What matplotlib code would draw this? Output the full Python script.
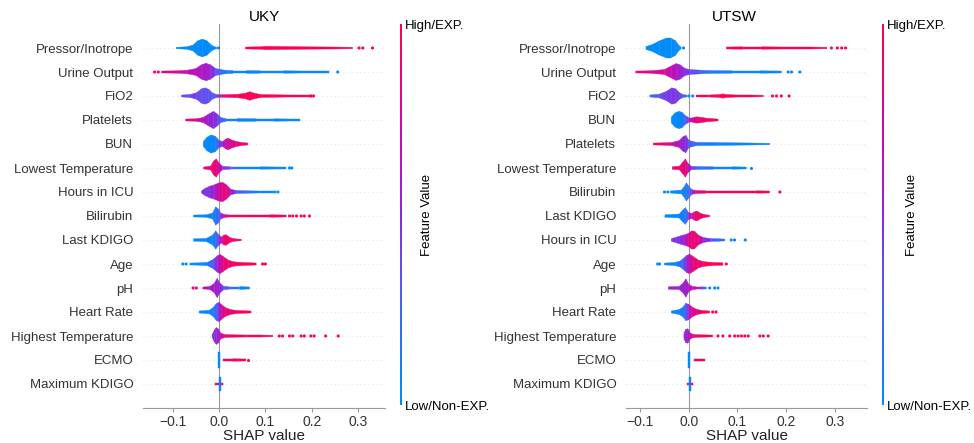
import numpy as np
import matplotlib
matplotlib.use("Agg")
import matplotlib.pyplot as plt
from matplotlib.colors import LinearSegmentedColormap
from matplotlib.cm import ScalarMappable

plt.rcParams['font.family'] = ['Liberation Sans', 'DejaVu Sans']

# ---- UKY ----
uky_features = ["Pressor/Inotrope", "Urine Output", "FiO2", "Platelets", "BUN",
                "Lowest Temperature", "Hours in ICU", "Bilirubin", "Last KDIGO", "Age",
                "pH", "Heart Rate", "Highest Temperature", "ECMO", "Maximum KDIGO"]

# shap value knots along each row, density (half height) and feature value colour at each knot
uky_knot_x = [
    [-0.092, -0.07, -0.056, -0.046, -0.036, -0.026, -0.018, -0.011, -0.005, -0.005, 0.057, 0.057, 0.09, 0.10, 0.14, 0.18, 0.25, 0.288],
    [-0.124, -0.09, -0.07, -0.05, -0.038, -0.028, -0.018, -0.008, 0.004, 0.015, 0.03, 0.06, 0.09, 0.14, 0.19, 0.237],
    [-0.081, -0.063, -0.048, -0.038, -0.03, -0.022, -0.015, -0.005, 0.005, 0.02, 0.04, 0.058, 0.066, 0.075, 0.09, 0.12, 0.16, 0.2],
    [-0.072, -0.05, -0.035, -0.022, -0.012, -0.004, 0.004, 0.015, 0.04, 0.08, 0.12, 0.16, 0.175],
    [-0.034, -0.026, -0.017, -0.008, 0.0, 0.008, 0.014, 0.02, 0.028, 0.038, 0.05, 0.062],
    [-0.033, -0.018, -0.011, -0.006, 0.0, 0.008, 0.025, 0.05, 0.09, 0.13, 0.145],
    [-0.038, -0.03, -0.02, -0.01, 0.0, 0.008, 0.016, 0.025, 0.035, 0.06, 0.09, 0.116],
    [-0.055, -0.028, -0.014, -0.007, -0.002, 0.004, 0.012, 0.02, 0.035, 0.07, 0.11, 0.145],
    [-0.055, -0.028, -0.014, -0.007, -0.001, 0.005, 0.01, 0.015, 0.022, 0.03, 0.04, 0.048],
    [-0.063, -0.04, -0.025, -0.012, -0.004, 0.002, 0.01, 0.02, 0.032, 0.05, 0.068, 0.08],
    [-0.035, -0.02, -0.01, -0.004, 0.002, 0.01, 0.02, 0.044, 0.066],
    [-0.043, -0.02, -0.012, -0.006, 0.0, 0.006, 0.014, 0.025, 0.04, 0.058, 0.069],
    [-0.015, -0.01, -0.006, -0.002, 0.004, 0.012, 0.03, 0.06, 0.09, 0.116],
    [-0.002, -0.002, 0.003, 0.003, 0.008, 0.008, 0.03, 0.058],
    [-0.008, -0.008, -0.001, -0.001, 0.004, 0.004, 0.008],
]
uky_knot_h = [
    [0.03, 0.05, 0.12, 0.3, 0.37, 0.3, 0.15, 0.06, 0.03, 0, 0, 0.04, 0.05, 0.07, 0.06, 0.05, 0.04, 0.03],
    [0.04, 0.05, 0.07, 0.14, 0.3, 0.36, 0.3, 0.15, 0.1, 0.07, 0.06, 0.06, 0.05, 0.05, 0.04, 0.04],
    [0.04, 0.06, 0.14, 0.3, 0.34, 0.28, 0.14, 0.06, 0.05, 0.06, 0.07, 0.12, 0.18, 0.12, 0.06, 0.05, 0.04, 0.04],
    [0.04, 0.05, 0.1, 0.25, 0.36, 0.25, 0.1, 0.06, 0.06, 0.05, 0.05, 0.04, 0.04],
    [0.1, 0.28, 0.38, 0.32, 0.15, 0.1, 0.2, 0.24, 0.16, 0.1, 0.06, 0.04],
    [0.04, 0.08, 0.3, 0.38, 0.2, 0.07, 0.05, 0.05, 0.05, 0.04, 0.04],
    [0.04, 0.15, 0.24, 0.3, 0.38, 0.4, 0.3, 0.12, 0.07, 0.05, 0.04, 0.04],
    [0.04, 0.05, 0.12, 0.38, 0.3, 0.12, 0.06, 0.05, 0.05, 0.05, 0.05, 0.04],
    [0.05, 0.06, 0.2, 0.38, 0.22, 0.12, 0.2, 0.22, 0.12, 0.06, 0.04, 0.03],
    [0.04, 0.05, 0.07, 0.2, 0.34, 0.4, 0.3, 0.16, 0.09, 0.06, 0.05, 0.04],
    [0.04, 0.06, 0.2, 0.4, 0.2, 0.07, 0.06, 0.06, 0.04],
    [0.04, 0.08, 0.2, 0.35, 0.4, 0.3, 0.18, 0.1, 0.06, 0.05, 0.04],
    [0.05, 0.25, 0.35, 0.3, 0.12, 0.06, 0.05, 0.04, 0.04, 0.03],
    [0, 0.35, 0.35, 0, 0, 0.05, 0.05, 0.04],
    [0, 0.05, 0.05, 0.3, 0.3, 0.05, 0.05],
]
uky_knot_c = [
    [0, 0, 0, 0, 0, 0, 0, 0, 0, 0, 1, 1, 1, 1, 1, 1, 1, 1],
    [0.85, 0.8, 0.7, 0.65, 0.6, 0.6, 0.55, 0.4, 0.2, 0.1, 0.05, 0.03, 0.02, 0.02, 0.02, 0.02],
    [0.3, 0.4, 0.4, 0.35, 0.35, 0.35, 0.3, 0.3, 0.7, 0.9, 0.95, 1, 1, 1, 1, 1, 1, 1],
    [0.9, 0.8, 0.65, 0.55, 0.5, 0.45, 0.3, 0.1, 0.03, 0.02, 0.02, 0.02, 0.02],
    [0, 0, 0, 0.05, 0.3, 0.55, 0.7, 0.75, 0.8, 0.85, 0.9, 0.9],
    [0.9, 0.9, 0.9, 0.85, 0.8, 0.55, 0.25, 0.05, 0.02, 0.02, 0.02],
    [0.5, 0.45, 0.45, 0.55, 0.75, 0.85, 0.85, 0.7, 0.4, 0.1, 0.05, 0.05],
    [0, 0, 0.05, 0.1, 0.2, 0.4, 0.65, 0.85, 0.95, 1, 1, 1],
    [0, 0, 0.05, 0.1, 0.4, 0.7, 0.85, 0.9, 0.9, 0.9, 0.9, 0.9],
    [0, 0, 0.05, 0.3, 0.55, 0.7, 0.85, 0.9, 0.95, 1, 1, 1],
    [0.7, 0.6, 0.55, 0.6, 0.55, 0.4, 0.25, 0.05, 0.02],
    [0, 0.05, 0.1, 0.2, 0.5, 0.75, 0.85, 0.9, 0.95, 1, 1],
    [0.5, 0.45, 0.5, 0.55, 0.7, 0.85, 0.95, 1, 1, 1],
    [0, 0, 0, 0, 1, 1, 1, 1],
    [0.9, 0.9, 0.9, 0.05, 0.05, 0.9, 0.9],
]
# loose single dots in the tails
uky_dot_x = [
    [-0.001, 0.302, 0.31, 0.331],
    [-0.139, -0.131, 0.256],
    [0.198, 0.204],
    [],
    [],
    [0.152, 0.157],
    [0.12, 0.127],
    [0.152, 0.159, 0.167, 0.177, 0.184, 0.195],
    [],
    [-0.078, -0.071, 0.094, 0.1],
    [-0.056, -0.049],
    [],
    [0.13, 0.137, 0.152, 0.159, 0.177, 0.184, 0.198, 0.205, 0.23, 0.257],
    [0.062],
    [],
]
uky_dot_c = [
    [0, 1, 1, 1],
    [0.9, 0.9, 0],
    [1, 1],
    [],
    [],
    [0, 0],
    [0, 0],
    [1, 1, 1, 1, 1, 1],
    [],
    [0, 0, 1, 1],
    [0.9, 0.9],
    [],
    [1, 1, 1, 1, 1, 1, 1, 1, 1, 1],
    [1],
    [],
]

# ---- UTSW ----
utsw_features = ["Pressor/Inotrope", "Urine Output", "FiO2", "BUN", "Platelets",
                 "Lowest Temperature", "Bilirubin", "Last KDIGO", "Hours in ICU", "Age",
                 "pH", "Heart Rate", "Highest Temperature", "ECMO", "Maximum KDIGO"]

utsw_knot_x = [
    [-0.088, -0.074, -0.06, -0.047, -0.036, -0.027, -0.021, -0.016, -0.016, 0.077, 0.077, 0.11, 0.15, 0.2, 0.25, 0.283],
    [-0.109, -0.08, -0.05, -0.036, -0.026, -0.018, -0.008, 0.002, 0.022, 0.043, 0.09, 0.146, 0.19],
    [-0.08, -0.06, -0.045, -0.035, -0.027, -0.02, -0.012, -0.004, -0.004, 0.015, 0.015, 0.04, 0.063, 0.07, 0.077, 0.1, 0.13, 0.153],
    [-0.036, -0.028, -0.02, -0.014, -0.007, 0.0, 0.008, 0.015, 0.022, 0.035, 0.05, 0.06],
    [-0.073, -0.05, -0.035, -0.02, -0.012, -0.006, 0.0, 0.015, 0.05, 0.09, 0.13, 0.166],
    [-0.034, -0.019, -0.012, -0.007, -0.002, 0.005, 0.015, 0.05, 0.09, 0.118],
    [-0.038, -0.015, -0.01, -0.005, 0.0, 0.006, 0.015, 0.035, 0.09, 0.14, 0.166],
    [-0.049, -0.02, -0.012, -0.007, -0.001, 0.006, 0.012, 0.017, 0.025, 0.035, 0.043],
    [-0.036, -0.025, -0.016, -0.008, 0.0, 0.006, 0.012, 0.02, 0.03, 0.045, 0.06, 0.074],
    [-0.05, -0.03, -0.018, -0.01, -0.004, 0.002, 0.01, 0.02, 0.03, 0.05, 0.07],
    [-0.042, -0.02, -0.012, -0.006, 0.0, 0.008, 0.015, 0.025, 0.036],
    [-0.036, -0.02, -0.012, -0.006, 0.0, 0.006, 0.015, 0.025, 0.036, 0.043],
    [-0.01, -0.006, -0.002, 0.003, 0.01, 0.025, 0.049],
    [-0.002, -0.002, 0.002, 0.002, 0.01, 0.01, 0.034],
    [-0.004, -0.004, 0.0, 0.0, 0.004, 0.004, 0.008],
]
utsw_knot_h = [
    [0.06, 0.15, 0.3, 0.4, 0.4, 0.3, 0.12, 0.04, 0, 0, 0.04, 0.05, 0.05, 0.04, 0.04, 0.03],
    [0.04, 0.05, 0.1, 0.25, 0.35, 0.3, 0.15, 0.1, 0.08, 0.06, 0.05, 0.05, 0.04],
    [0.04, 0.08, 0.2, 0.34, 0.3, 0.15, 0.06, 0.04, 0, 0, 0.04, 0.04, 0.06, 0.09, 0.06, 0.04, 0.04, 0.03],
    [0.12, 0.3, 0.36, 0.32, 0.18, 0.1, 0.1, 0.13, 0.12, 0.08, 0.05, 0.04],
    [0.04, 0.05, 0.06, 0.14, 0.3, 0.36, 0.15, 0.07, 0.06, 0.05, 0.04, 0.03],
    [0.05, 0.08, 0.25, 0.38, 0.2, 0.07, 0.06, 0.05, 0.05, 0.04],
    [0.04, 0.08, 0.2, 0.38, 0.25, 0.1, 0.06, 0.05, 0.05, 0.05, 0.04],
    [0.05, 0.08, 0.25, 0.35, 0.15, 0.1, 0.18, 0.2, 0.1, 0.05, 0.03],
    [0.05, 0.12, 0.18, 0.22, 0.28, 0.38, 0.36, 0.2, 0.1, 0.06, 0.05, 0.04],
    [0.04, 0.06, 0.12, 0.25, 0.36, 0.4, 0.3, 0.16, 0.1, 0.06, 0.05],
    [0.05, 0.06, 0.2, 0.38, 0.15, 0.06, 0.05, 0.05, 0.04],
    [0.04, 0.1, 0.2, 0.36, 0.32, 0.22, 0.12, 0.07, 0.05, 0.04],
    [0.12, 0.28, 0.3, 0.12, 0.06, 0.05, 0.04],
    [0, 0.35, 0.35, 0, 0, 0.05, 0.05],
    [0, 0.05, 0.05, 0.3, 0.3, 0.05, 0.05],
]
utsw_knot_c = [
    [0, 0, 0, 0, 0, 0, 0, 0, 0, 1, 1, 1, 1, 1, 1, 1],
    [0.9, 0.85, 0.7, 0.75, 0.6, 0.55, 0.5, 0.4, 0.3, 0.1, 0.05, 0.02, 0.02],
    [0.2, 0.35, 0.4, 0.45, 0.45, 0.4, 0.3, 0.1, 0.1, 1, 1, 0.95, 1, 1, 1, 1, 1, 1],
    [0, 0, 0, 0.05, 0.2, 0.5, 0.75, 0.85, 0.9, 0.9, 0.95, 0.95],
    [0.95, 0.9, 0.75, 0.6, 0.5, 0.5, 0.4, 0.15, 0.03, 0.02, 0.02, 0.02],
    [0.9, 0.9, 0.9, 0.85, 0.75, 0.5, 0.3, 0.05, 0.02, 0.02],
    [0, 0, 0.05, 0.1, 0.15, 0.4, 0.75, 0.95, 1, 1, 1],
    [0, 0, 0.05, 0.1, 0.4, 0.7, 0.85, 0.9, 0.9, 0.9, 0.9],
    [0.5, 0.45, 0.45, 0.55, 0.8, 0.9, 0.9, 0.85, 0.6, 0.35, 0.2, 0.1],
    [0, 0.05, 0.1, 0.3, 0.5, 0.7, 0.85, 0.9, 0.95, 1, 1],
    [0.55, 0.55, 0.55, 0.55, 0.6, 0.7, 0.75, 0.5, 0.1],
    [0, 0.05, 0.1, 0.2, 0.55, 0.75, 0.85, 0.9, 0.95, 1],
    [0.5, 0.5, 0.55, 0.7, 0.85, 0.95, 1],
    [0, 0, 0, 0, 1, 1, 1],
    [0.9, 0.9, 0.9, 0.05, 0.05, 0.9, 0.9],
]
utsw_dot_x = [
    [-0.011, 0.293, 0.305, 0.314, 0.322],
    [0.204, 0.211, 0.228],
    [0.0, 0.008, 0.172, 0.18, 0.19, 0.206],
    [],
    [],
    [0.128],
    [-0.05, -0.043, 0.187],
    [],
    [0.087, 0.094, 0.116],
    [-0.064, -0.06, 0.077],
    [0.043, 0.053, 0.06],
    [0.049, 0.056],
    [0.06, 0.07, 0.084, 0.094, 0.101, 0.108, 0.115, 0.122, 0.146, 0.153, 0.163],
    [],
    [],
]
utsw_dot_c = [
    [0, 1, 1, 1, 1],
    [0, 0, 0],
    [0, 0, 1, 1, 1, 1],
    [],
    [],
    [0],
    [0, 0, 1],
    [],
    [0, 0, 0],
    [0, 0, 1],
    [0, 0, 0],
    [1, 1],
    [1, 1, 1, 1, 1, 1, 1, 1, 1, 1, 1],
    [],
    [],
]

xticks = [-0.1, 0.0, 0.1, 0.2, 0.3]

# shap style red/blue map
cmap = LinearSegmentedColormap.from_list(
    "red_blue",
    [(0.0, (0.0, 0.541, 0.984)),
     (0.3, (0.33, 0.36, 0.96)),
     (0.5, (0.55, 0.16, 0.86)),
     (0.7, (0.78, 0.05, 0.68)),
     (1.0, (1.0, 0.0, 0.318))])


def draw_panel(ax, cax, title, title_x, names, kx, kh, kc, dx, dc, xlim, flabel_x):
    n = len(names)
    for i in range(n):
        y = n - 1 - i
        ax.axhline(y, color="#cccccc", lw=0.5, dashes=(1, 5), zorder=-1)
        xs, hs, cs = kx[i], kh[i], kc[i]
        for j in range(len(xs) - 1):
            if xs[j + 1] == xs[j] or (hs[j] == 0 and hs[j + 1] == 0):
                continue
            col = cmap((cs[j] + cs[j + 1]) / 2)
            ax.fill([xs[j], xs[j + 1], xs[j + 1], xs[j]],
                    [y - hs[j], y - hs[j + 1], y + hs[j + 1], y + hs[j]],
                    color=col, lw=0.3, zorder=2)
        if dx[i]:
            ax.scatter(dx[i], [y] * len(dx[i]), c=dc[i], cmap=cmap, vmin=0, vmax=1,
                       s=5, lw=0, zorder=3)

    ax.axvline(0, color="#999999", lw=0.8, zorder=1)
    ax.set_xlim(xlim)
    ax.set_ylim(-1, n)
    ax.set_yticks(range(n))
    ax.set_yticklabels(names[::-1], fontsize=9.5, color="#333333")
    ax.tick_params(axis="y", length=0, pad=7)
    ax.set_xticks(xticks)
    ax.set_xticklabels(["%.1f" % t if t >= 0 else "\u2212%.1f" % -t for t in xticks],
                       fontsize=10, color="#333333")
    ax.tick_params(axis="x", length=3, color="#999999", pad=2)
    for s in ["left", "right", "top"]:
        ax.spines[s].set_visible(False)
    ax.spines["bottom"].set_color("#999999")
    ax.spines["bottom"].set_linewidth(0.8)
    ax.set_xlabel("SHAP value", fontsize=11, labelpad=0, color="#222222")
    ax.set_title(title, fontsize=11, x=title_x, pad=1)

    cb = plt.colorbar(ScalarMappable(cmap=cmap), cax=cax)
    cb.outline.set_visible(False)
    cb.set_ticks([0, 1])
    cb.set_ticklabels(["Low/Non-EXP.", "High/EXP."])
    cax.tick_params(length=0, pad=2, labelsize=9.5)
    fig.text(flabel_x, 1 - 215 / 443, "Feature Value", rotation=90,
             ha="center", va="center", fontsize=9.5)


fig = plt.figure(figsize=(9.74, 4.43), dpi=100)
ax1 = fig.add_axes([143 / 974, 35 / 443, 242 / 974, 384 / 443])
cax1 = fig.add_axes([400 / 974, 38 / 443, 2.2 / 974, 381 / 443])
ax2 = fig.add_axes([626 / 974, 35 / 443, 241 / 974, 384 / 443])
cax2 = fig.add_axes([882 / 974, 38 / 443, 2.2 / 974, 381 / 443])

draw_panel(ax1, cax1, "UKY", 0.5, uky_features, uky_knot_x, uky_knot_h, uky_knot_c,
           uky_dot_x, uky_dot_c, (-0.164, 0.358), 427 / 974)
draw_panel(ax2, cax2, "UTSW", 0.45, utsw_features, utsw_knot_x, utsw_knot_h, utsw_knot_c,
           utsw_dot_x, utsw_dot_c, (-0.129, 0.366), 912 / 974)

fig.savefig("out.png", dpi=100)
plt.close()
